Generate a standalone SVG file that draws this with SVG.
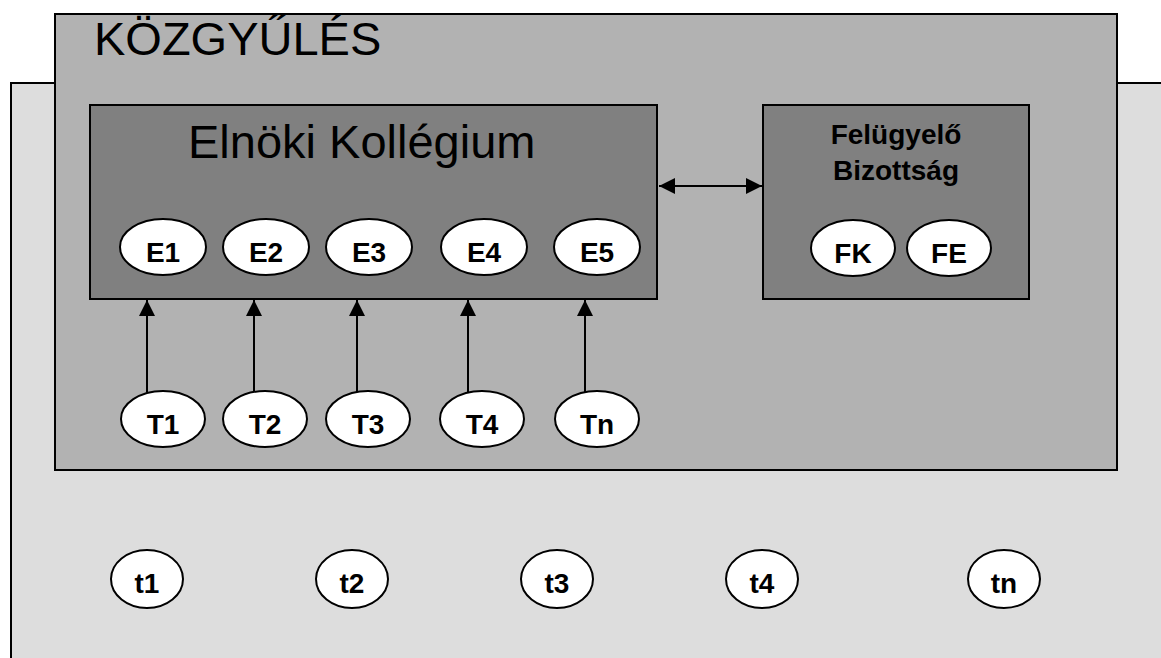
<svg xmlns="http://www.w3.org/2000/svg" width="1161" height="658" viewBox="0 0 1161 658">
<style>
.box{stroke:#000;stroke-width:2}
.ell{fill:#fff;stroke:#000;stroke-width:2}
.lbl{font-family:"Liberation Sans",Arial,sans-serif;font-weight:bold;font-size:28px;text-anchor:middle;fill:#000}
.title{font-family:"Liberation Sans",Arial,sans-serif;fill:#000}
.conn{stroke:#000;stroke-width:2;fill:none}
</style>
<defs>
<marker id="ah" viewBox="0 0 16 16" refX="16" refY="8" markerWidth="16" markerHeight="16" markerUnits="userSpaceOnUse" orient="auto-start-reverse">
<path d="M0,0 L16,8 L0,16 Z" fill="#000"/>
</marker>
</defs>
<rect width="1161" height="658" fill="#fff"/>
<g id="outer">
<rect class="box" x="11" y="83" width="1160" height="600" fill="#dddddd"/>
</g>
<g id="kozgyules">
<rect class="box" x="55" y="14" width="1062" height="456" fill="#b2b2b2"/>
<text class="title" x="94" y="55" font-size="47">KÖZGYŰLÉS</text>
</g>
<g id="elnoki">
<rect class="box" x="90" y="105" width="567" height="194" fill="#808080"/>
<text class="title" x="188" y="158" font-size="47">Elnöki Kollégium</text>
</g>
<g id="felugyelo">
<rect class="box" x="763" y="105" width="266" height="194" fill="#808080"/>
<text class="lbl" x="896" y="144" font-size="29">Felügyelő</text>
<text class="lbl" x="896" y="180" font-size="29">Bizottság</text>
</g>
<g id="E1"><ellipse class="ell" cx="163" cy="247" rx="43" ry="28"/><text class="lbl" x="163" y="262">E1</text></g>
<g id="E2"><ellipse class="ell" cx="266" cy="247" rx="43" ry="28"/><text class="lbl" x="266" y="262">E2</text></g>
<g id="E3"><ellipse class="ell" cx="369" cy="247" rx="43" ry="28"/><text class="lbl" x="369" y="262">E3</text></g>
<g id="E4"><ellipse class="ell" cx="484" cy="247" rx="43" ry="28"/><text class="lbl" x="484" y="262">E4</text></g>
<g id="E5"><ellipse class="ell" cx="597" cy="247" rx="43" ry="28"/><text class="lbl" x="597" y="262">E5</text></g>
<g id="FK"><ellipse class="ell" cx="853" cy="248" rx="42" ry="28"/><text class="lbl" x="853" y="263">FK</text></g>
<g id="FE"><ellipse class="ell" cx="949" cy="248" rx="42" ry="28"/><text class="lbl" x="949" y="263">FE</text></g>
<g id="T1"><ellipse class="ell" cx="163" cy="419" rx="42" ry="28"/><text class="lbl" x="163" y="434">T1</text></g>
<g id="T2"><ellipse class="ell" cx="265" cy="419" rx="42" ry="28"/><text class="lbl" x="265" y="434">T2</text></g>
<g id="T3"><ellipse class="ell" cx="368" cy="419" rx="42" ry="28"/><text class="lbl" x="368" y="434">T3</text></g>
<g id="T4"><ellipse class="ell" cx="482" cy="419" rx="42" ry="28"/><text class="lbl" x="482" y="434">T4</text></g>
<g id="Tn"><ellipse class="ell" cx="597" cy="419" rx="42" ry="28"/><text class="lbl" x="597" y="434">Tn</text></g>
<g id="t1"><ellipse class="ell" cx="147" cy="579" rx="36" ry="29"/><text class="lbl" x="147" y="593" font-size="29">t1</text></g>
<g id="t2"><ellipse class="ell" cx="352" cy="579" rx="36" ry="29"/><text class="lbl" x="352" y="593" font-size="29">t2</text></g>
<g id="t3"><ellipse class="ell" cx="557" cy="579" rx="36" ry="29"/><text class="lbl" x="557" y="593" font-size="29">t3</text></g>
<g id="t4"><ellipse class="ell" cx="762" cy="579" rx="36" ry="29"/><text class="lbl" x="762" y="593" font-size="29">t4</text></g>
<g id="tn"><ellipse class="ell" cx="1004" cy="579" rx="36" ry="29"/><text class="lbl" x="1004" y="593" font-size="29">tn</text></g>
<g id="connectors">
<line class="conn" x1="659" y1="186" x2="762" y2="186" marker-start="url(#ah)" marker-end="url(#ah)"/>
<line class="conn" x1="147" y1="392" x2="147" y2="300" marker-end="url(#ah)"/>
<line class="conn" x1="254" y1="392" x2="254" y2="300" marker-end="url(#ah)"/>
<line class="conn" x1="357" y1="392" x2="357" y2="300" marker-end="url(#ah)"/>
<line class="conn" x1="468" y1="392" x2="468" y2="300" marker-end="url(#ah)"/>
<line class="conn" x1="585" y1="392" x2="585" y2="300" marker-end="url(#ah)"/>
</g>
</svg>
